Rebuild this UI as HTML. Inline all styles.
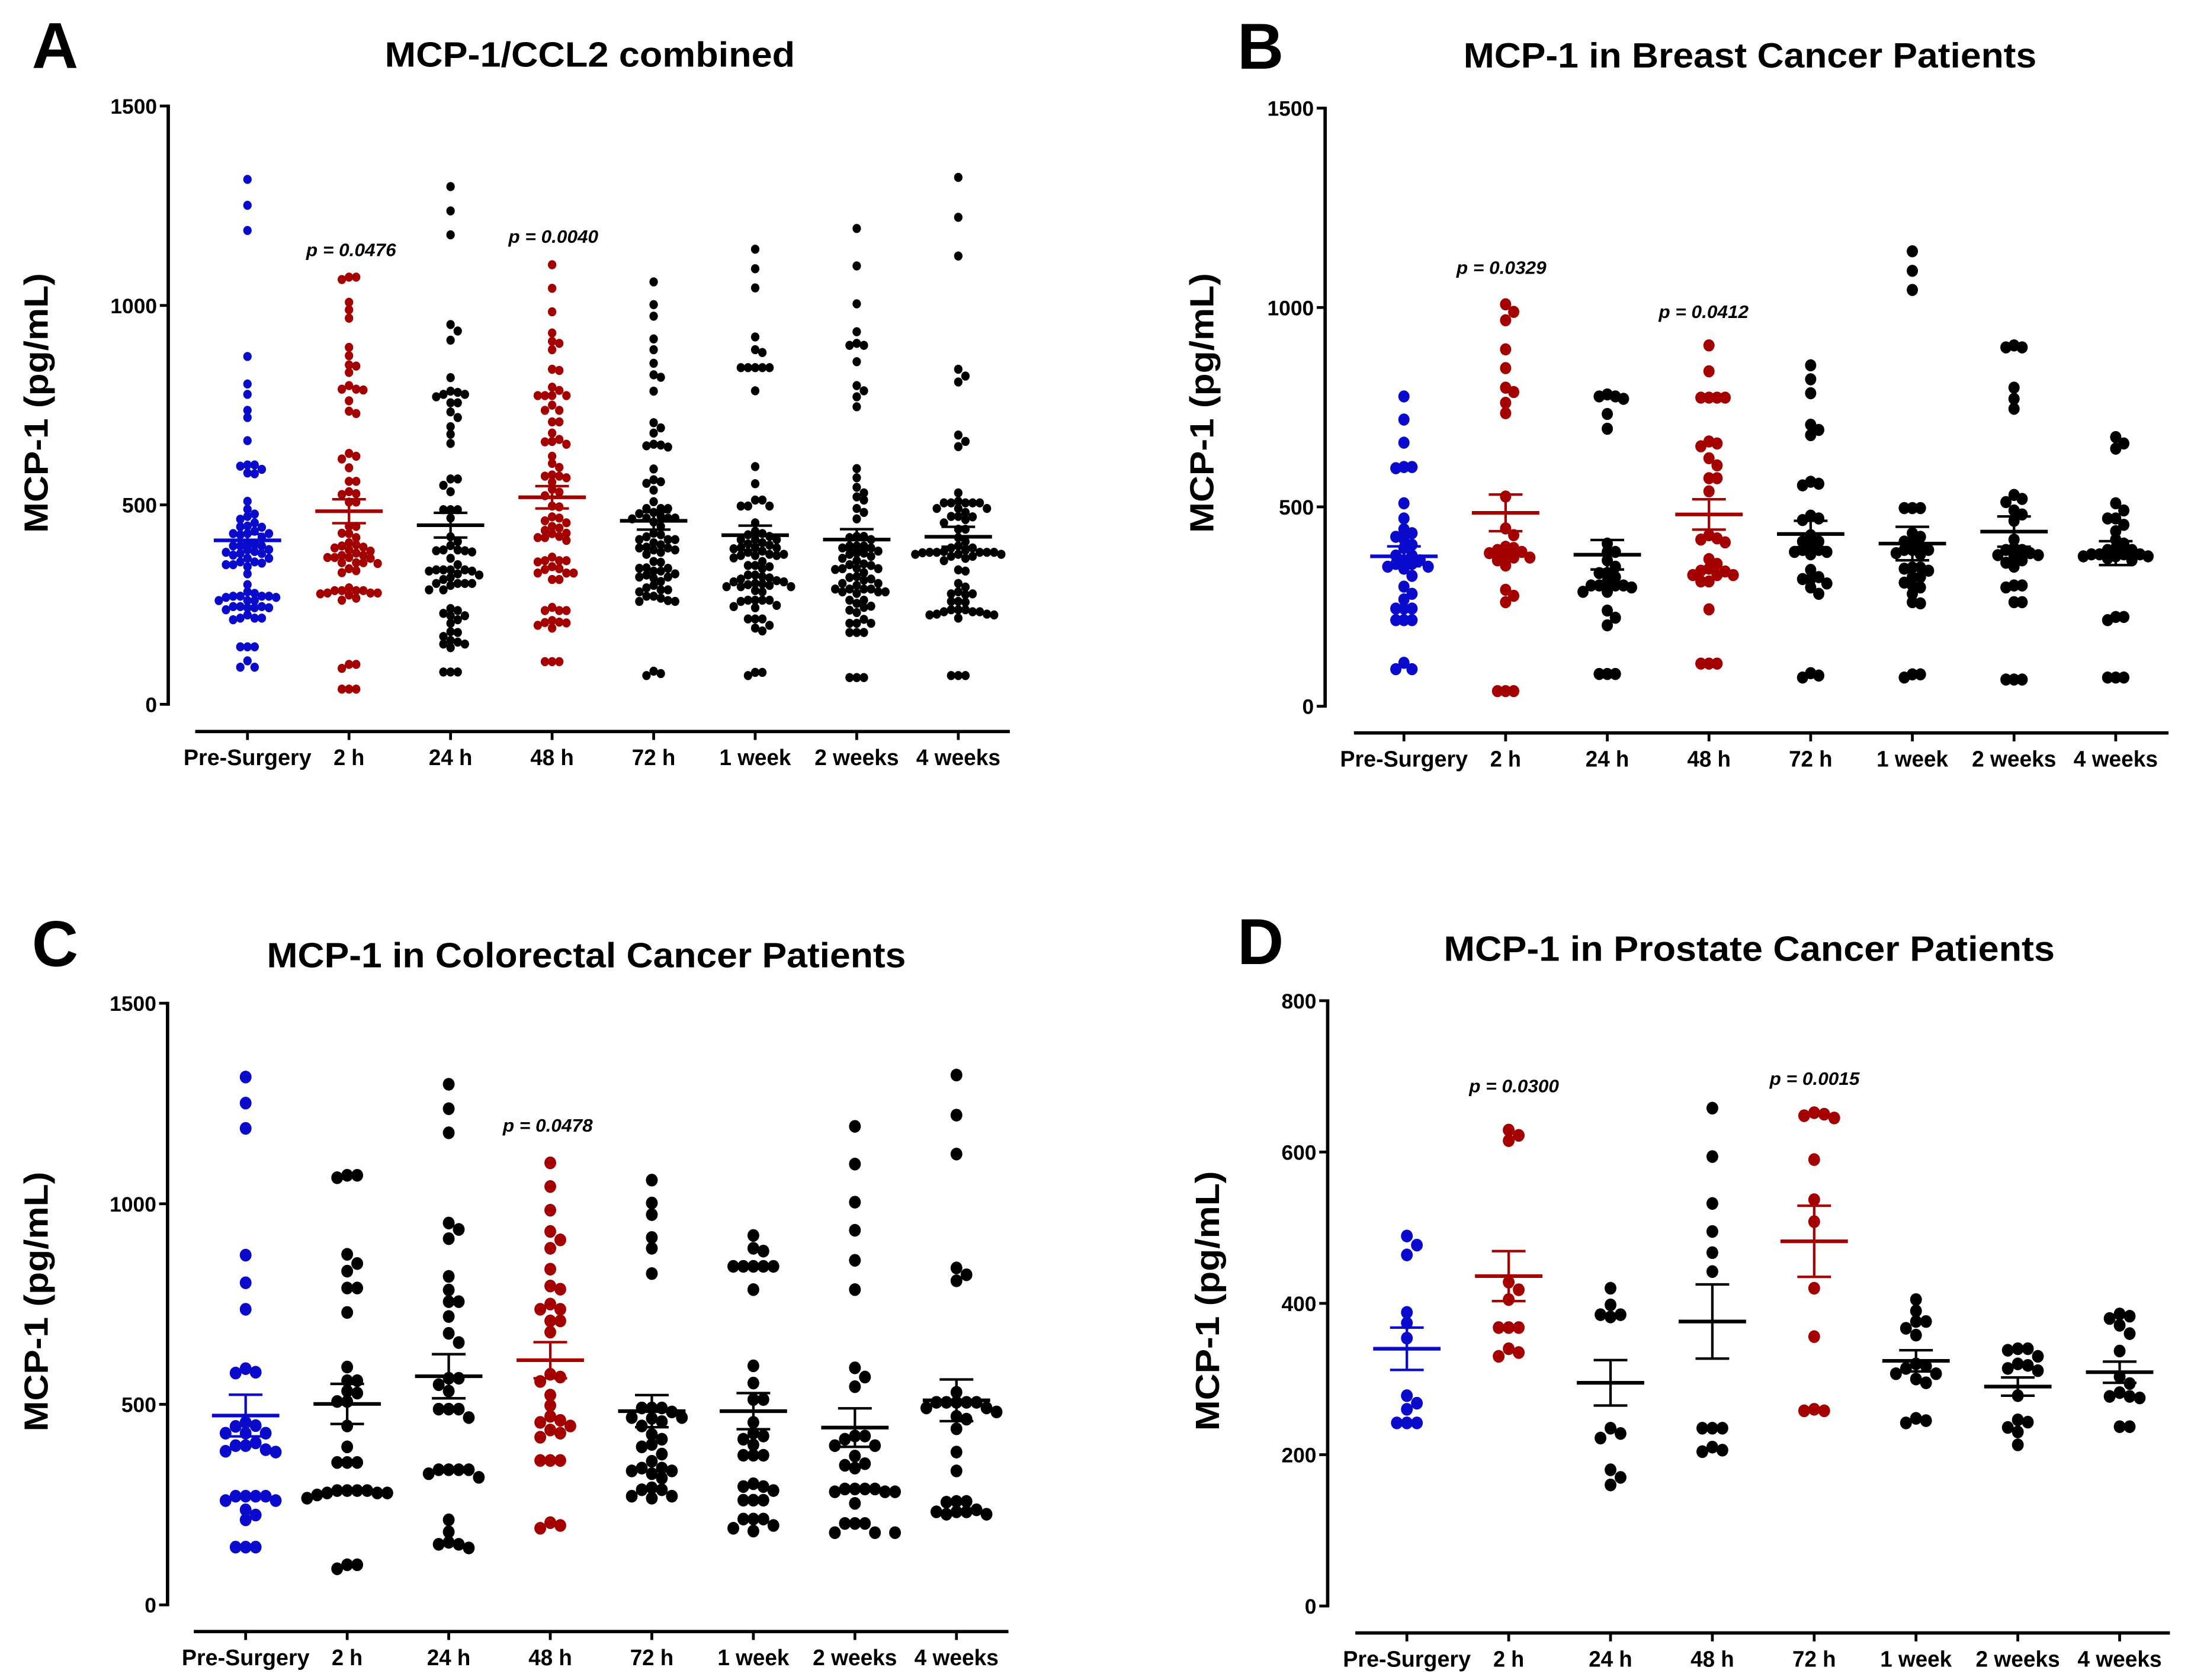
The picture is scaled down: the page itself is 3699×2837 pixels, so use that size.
<!DOCTYPE html>
<html><head><meta charset="utf-8"><style>
html,body{margin:0;padding:0;background:#fff;}
svg{display:block;}
text{font-family:"Liberation Sans Narrow","Liberation Sans",sans-serif;font-weight:bold;fill:#000;}
.wide{font-family:"Liberation Sans",sans-serif;}
</style></head><body>
<svg id="fig" xmlns="http://www.w3.org/2000/svg" width="3699" height="2837" viewBox="0 0 1560 1196.5" preserveAspectRatio="none"></svg>
<script>
const categories = ["Pre-Surgery","2 h","24 h","48 h","72 h","1 week","2 weeks","4 weeks"];
const ticksMain = [0,500,1000,1500];
const ticksD = [0,200,400,600,800];

const bPre=[777,719,661,600,600,597,509,471,444,434,425,419,405,397,378,378,366,366,357,357,350,350,345,327,300,282,268,245,245,245,216,216,216,109,93,93];
const b2h=[1008,989,968,895,848,799,788,761,735,526,446,429,400,397,392,387,384,379,373,373,366,353,292,277,261,38,38,38];
const b24h=[782,777,777,771,733,696,408,387,387,366,350,334,334,324,313,303,303,303,303,298,287,287,240,222,203,81,81,81];
const b48h=[905,840,774,774,774,774,664,659,652,622,604,572,572,539,429,421,418,411,369,357,345,340,338,329,329,329,313,313,243,107,107,107];
const b72h=[855,820,785,706,693,680,563,558,554,478,471,467,429,413,413,405,392,392,387,387,381,342,324,319,319,308,298,282,83,77,72];
const b1w=[1141,1092,1044,497,497,497,434,425,413,413,402,392,392,392,384,381,348,348,345,340,324,324,310,303,298,282,261,258,80,80,72];
const b2w=[905,900,900,799,771,746,530,520,512,491,481,465,418,397,392,392,384,379,379,376,366,360,350,303,303,298,261,261,67,67,67];
const b4w=[675,659,646,509,491,471,471,455,439,418,408,397,392,392,381,381,381,381,376,376,376,371,366,224,224,216,72,72,72];
const bMean=[376,485,380,481,432,408,438,384];
const bSem=[25,46,37,38,33,42,38,30];

const cPre=[1316,1251,1188,872,803,737,589,580,578,455,447,445,428,428,428,404,397,397,387,383,381,271,271,271,271,260,260,237,224,212,144,144,144];
const c2h=[1071,1071,1065,874,851,832,790,790,729,593,559,559,533,528,507,507,446,394,355,355,355,285,285,285,285,279,279,279,274,266,100,100,90];
const c24h=[1298,1237,1177,952,936,913,819,785,756,756,719,677,654,565,565,549,533,488,488,488,467,337,337,337,337,327,318,212,182,156,151,151,142];
const c48h=[1102,1043,984,931,910,889,837,795,787,750,737,737,708,708,680,575,568,557,523,497,470,460,455,446,436,428,418,360,360,360,205,198,191];
const c72h=[1059,1002,973,916,889,826,491,491,491,481,467,467,465,457,446,425,413,400,394,376,358,341,341,334,334,327,316,292,287,287,271,271,266];
const c1w=[921,889,882,844,844,844,844,844,786,596,553,512,512,455,428,421,413,399,373,373,373,302,295,295,285,261,261,261,214,214,214,198,191,184];
const c2w=[1193,1099,1004,934,859,786,591,568,544,421,421,413,397,397,371,352,348,341,289,289,289,289,282,282,282,253,203,203,203,180,180,180];
const c4w=[1321,1221,1124,840,823,808,530,505,505,505,505,505,491,491,481,470,463,439,381,334,258,258,256,237,232,232,232,226,226];
const cMean=[472,501,570,610,483,483,442,510];
const cSem=[52,50,55,45,40,45,48,52];

const dPre=[489,477,464,388,374,354,278,268,260,242,242,242];
const d2h=[629,622,615,428,418,405,368,368,368,340,335,330];
const d24h=[420,398,385,385,382,235,228,222,180,170,160];
const d48h=[658,594,532,495,467,442,235,235,235,210,206,204];
const d72h=[652,650,648,645,590,537,508,420,356,260,258,258];
const d1w=[405,390,376,376,367,358,320,317,314,307,307,300,295,248,245,242];
const d2w=[340,340,338,330,320,318,314,311,278,246,243,236,230,213];
const d4w=[386,383,380,371,360,337,303,294,282,277,277,275,237,237];
const dMean=[340,436,295,376,482,324,290,309];
const dSem=[28,33,30,49,47,14,12,14];

const aMean=[411,484,449,519,460,424,413,420];
const aSem=[16,30,31,28,22,24,26,25];

const bGroups=[bPre,b2h,b24h,b48h,b72h,b1w,b2w,b4w];
const cGroups=[cPre,c2h,c24h,c48h,c72h,c1w,c2w,c4w];
const dGroups=[dPre,d2h,d24h,d48h,d72h,d1w,d2w,d4w];
const aGroups=bGroups.map((g,i)=>g.concat(cGroups[i],dGroups[i]));

const BLUE="#0a0acc", RED="#a50000", BLK="#000";
const NS="http://www.w3.org/2000/svg";
const svg=document.getElementById('fig');
function mk(tag,attrs,parent){const e=document.createElementNS(NS,tag);for(const k in attrs)e.setAttribute(k,attrs[k]);(parent||svg).appendChild(e);return e;}
const labelW={"Pre-Surgery":91,"2 h":22,"24 h":31,"48 h":31,"72 h":31,"1 week":51,"2 weeks":60,"4 weeks":60};

function panel(p){
  const g=mk('g',{});
  
  
  const ymax=p.ticks[p.ticks.length-1];
  const ys=v=>p.y0-(v/ymax)*(p.y0-p.yTop);
  const xs=i=>p.cx0+i*p.dx;
  const L=mk('text',{x:p.lx,y:p.ly,'font-size':46,textLength:33,lengthAdjust:'spacingAndGlyphs',class:'wide'},g);L.textContent=p.letter;
  
  
  const T=mk('text',{x:p.tx,y:p.ty,'font-size':25,'text-anchor':'middle',textLength:p.tw,lengthAdjust:'spacingAndGlyphs'},g);T.textContent=p.title;
  
  
  const Y=mk('text',{x:0,y:0,'font-size':24,'text-anchor':'middle',class:'wide',textLength:185,lengthAdjust:'spacingAndGlyphs',transform:`translate(${p.yTitleX},${p.yTitleY}) rotate(-90)`},g);Y.textContent="MCP-1 (pg/mL)";
  
  
  const ya=mk('line',{x1:p.ax,y1:p.yTop-1,x2:p.ax,y2:p.y0+1,stroke:'#000','stroke-width':2.4},g);
  
  
  p.ticks.forEach(t=>{
    const yy=ys(t);
    const tl=mk('line',{x1:p.ax-6,y1:yy,x2:p.ax,y2:yy,stroke:'#000','stroke-width':2},g);
    
    
    const tt=mk('text',{x:p.ax-8,y:yy+5.5,'font-size':15,'text-anchor':'end',textLength:String(t).length*8.3,lengthAdjust:'spacingAndGlyphs'},g);tt.textContent=t;
    
    
  });
  const xa=mk('line',{x1:p.xaL,y1:p.xaY,x2:p.xaR,y2:p.xaY,stroke:'#000','stroke-width':2.4},g);
  
  
  categories.forEach((c,i)=>{
    const tl=mk('line',{x1:xs(i),y1:p.xaY,x2:xs(i),y2:p.xaY+6,stroke:'#000','stroke-width':2},g);
    
    
    const tt=mk('text',{x:xs(i),y:p.xaY+24,'font-size':16,'text-anchor':'middle',textLength:labelW[c],lengthAdjust:'spacingAndGlyphs'},g);tt.textContent=c;
    
    
  });
  const r=p.r, step=2*r*p.sp, minD=2*r*p.sp;
  p.groups.forEach((vals,i)=>{
    const col=p.colors[i];
    const sorted=vals.slice().sort((a,b)=>b-a);
    const placed=[];
    sorted.forEach(v=>{
      const yy=ys(v);
      let off=0;
      for(let k=0;k<60;k++){
        const o=(k===0)?0:(k%2?1:-1)*Math.ceil(k/2)*step;
        const ok=placed.every(q=>Math.hypot(q[0]-o,(q[1]-yy)*1.0)>=minD);
        if(ok){off=o;break;}
      }
      placed.push([off,yy]);
      const c=mk('ellipse',{cx:xs(i)+off,cy:yy,rx:r,ry:r*1.08,fill:col},g);
      
      
    });
    const m=ys(p.mean[i]), hi=ys(p.mean[i]+p.sem[i]), lo=ys(p.mean[i]-p.sem[i]);
    const x=xs(i);
    const ml=mk('line',{x1:x-24,y1:m,x2:x+24,y2:m,stroke:col,'stroke-width':2.6},g);
    
    
    const el=mk('path',{d:`M${x},${hi}V${lo}M${x-12},${hi}H${x+12}M${x-12},${lo}H${x+12}`,stroke:col,'stroke-width':1.8,fill:'none'},g);
    
    
  });
  p.pvals.forEach(pv=>{
    const t=mk('text',{x:pv[1],y:pv[2],'font-size':13,'font-style':'italic',textLength:64,lengthAdjust:'spacingAndGlyphs'},g);t.textContent=pv[0];
    
    
  });
}
const cA=[BLUE,RED,BLK,RED,BLK,BLK,BLK,BLK];
panel({name:'panel-a',letter:'A',lx:22.7,ly:48.5,title:'MCP-1/CCL2 combined',tx:420,ty:47.5,tw:292,yTitleX:34,yTitleY:287,
  ax:119.8,yTop:75.5,y0:501.6,ticks:ticksMain,cx0:176.2,dx:72.3,xaL:139,xaR:719,xaY:521,r:3,sp:0.85,
  groups:aGroups,colors:cA,mean:aMean,sem:aSem,pvals:[["p = 0.0476",218,182.5],["p = 0.0040",362,173]]});
panel({name:'panel-b',letter:'B',lx:881,ly:49,title:'MCP-1 in Breast Cancer Patients',tx:1246,ty:48,tw:408,yTitleX:864,yTitleY:287,
  ax:943.5,yTop:77,y0:503,ticks:ticksMain,cx0:999.6,dx:72.4,xaL:964,xaR:1544,xaY:522,r:4,sp:0.72,
  groups:bGroups,colors:[BLUE,RED,BLK,RED,BLK,BLK,BLK,BLK],mean:bMean,sem:bSem,pvals:[["p = 0.0329",1037,195],["p = 0.0412",1181,226.5]]});
panel({name:'panel-c',letter:'C',lx:22.7,ly:688,title:'MCP-1 in Colorectal Cancer Patients',tx:417.5,ty:689,tw:455,yTitleX:34,yTitleY:927,
  ax:119.3,yTop:714.5,y0:1143,ticks:ticksMain,cx0:174.9,dx:72.3,xaL:138,xaR:718,xaY:1162,r:4.2,sp:0.85,
  groups:cGroups,colors:[BLUE,BLK,BLK,RED,BLK,BLK,BLK,BLK],mean:cMean,sem:cSem,pvals:[["p = 0.0478",358,806]]});
panel({name:'panel-d',letter:'D',lx:881,ly:686.6,title:'MCP-1 in Prostate Cancer Patients',tx:1245.5,ty:684.3,tw:435,yTitleX:868,yTitleY:926.5,
  ax:945.3,yTop:712.7,y0:1143.8,ticks:ticksD,cx0:1001.7,dx:72.5,xaL:965,xaR:1545,xaY:1163,r:4.2,sp:0.85,
  groups:dGroups,colors:[BLUE,RED,BLK,BLK,RED,BLK,BLK,BLK],mean:dMean,sem:dSem,pvals:[["p = 0.0300",1046,778],["p = 0.0015",1260,772.6]]});
</script>
</body></html>
